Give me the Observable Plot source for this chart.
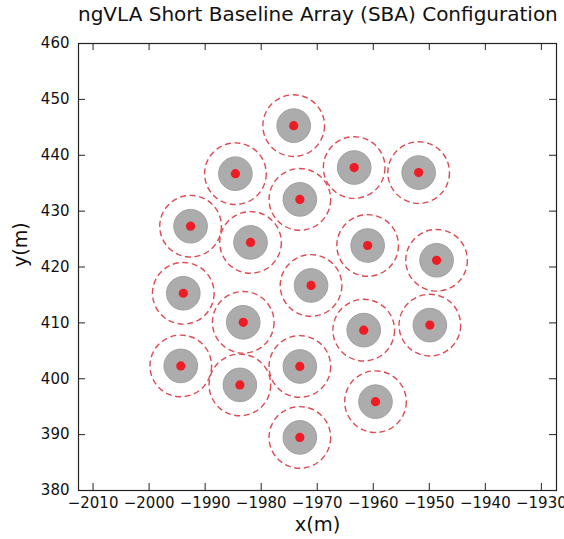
<!DOCTYPE html>
<html>
<head>
<meta charset="utf-8">
<script src="https://cdn.jsdelivr.net/npm/d3@7"></script>
<script src="https://cdn.jsdelivr.net/npm/@observablehq/plot@0.6"></script>
<style>
  html, body { margin: 0; padding: 0; background: #fff; }
  #title { box-sizing: border-box; width: 564px; height: 28px; line-height: 28px; padding-left: 78px; padding-right: 8px;
           text-align: center; font-family: "DejaVu Sans", sans-serif; font-size: 20px; color: #111; white-space: nowrap; }
</style>
</head>
<body>
<div id="title">ngVLA Short Baseline Array (SBA) Configuration</div>
<div id="chart"></div>
<script>
// Antenna positions (m)
const antX = [-1974.2, -1984.6, -1963.4, -1951.9, -1973.1, -1992.6, -1981.9, -1961.0, -1948.7, -1971.1,
              -1993.9, -1983.2, -1961.7, -1949.9, -1994.35, -1973.1, -1983.8, -1959.6, -1973.1];
const antY = [445.3, 436.7, 437.8, 436.9, 432.1, 427.3, 424.4, 423.85, 421.2, 416.7,
              415.3, 410.1, 408.7, 409.6, 402.3, 402.2, 398.9, 395.9, 389.5];
const dishRadius = 3;      // m (grey disc)
const keepoutRadius = 5.5; // m (dashed circle)
const xTicks = [-2010, -2000, -1990, -1980, -1970, -1960, -1950, -1940, -1930];
const yTicks = [380, 390, 400, 410, 420, 430, 440, 450, 460];
const xDomain = [-2012.6, -1927.3];
const yDomain = [380, 460];

const antennas = antX.map((x, i) => ({x, y: antY[i]}));

const width = 564, height = 511;
const mL = 78, mR = 8, mT = 15, mB = 49;
const fw = width - mL - mR, fh = height - mT - mB;
const pxPerUnit = fw / (xDomain[1] - xDomain[0]);
const tickLen = 7;
const fmt = d => String(d).replace("-", "\u2212");

const chart = Plot.plot({
  width, height,
  marginLeft: mL, marginRight: mR, marginTop: mT, marginBottom: mB,
  style: {fontFamily: "DejaVu Sans, sans-serif", background: "#fff", color: "#111", overflow: "visible"},
  x: {domain: xDomain, axis: null},
  y: {domain: yDomain, axis: null},
  r: {type: "linear", domain: [0, 1], range: [0, pxPerUnit]},
  marks: [
    Plot.dot(antennas, {x: "x", y: "y", r: () => keepoutRadius, stroke: "#dd4a52", strokeWidth: 1.4,
                        strokeDasharray: "6,3.6", fill: "none"}),
    Plot.dot(antennas, {x: "x", y: "y", r: () => dishRadius, fill: "#acacac", stroke: "#a0a0a0", strokeWidth: 1}),
    Plot.dot(antennas, {x: "x", y: "y", r: 4.6, fill: "#ee1d25", stroke: "none"}),
    Plot.ruleX(xTicks, {x: d => d, insetTop: fh - tickLen, stroke: "#222", strokeWidth: 1}),
    Plot.ruleX(xTicks, {x: d => d, insetBottom: fh - tickLen, stroke: "#222", strokeWidth: 1}),
    Plot.ruleY(yTicks, {y: d => d, insetRight: fw - tickLen, stroke: "#222", strokeWidth: 1}),
    Plot.ruleY(yTicks, {y: d => d, insetLeft: fw - tickLen, stroke: "#222", strokeWidth: 1}),
    Plot.frame({stroke: "#222", strokeWidth: 1.2}),
    Plot.text(xTicks, {x: d => d, text: fmt, frameAnchor: "bottom", lineAnchor: "top", dy: 7, fontSize: 15, fill: "#111"}),
    Plot.text(yTicks, {y: d => d, text: d => String(d), frameAnchor: "left", textAnchor: "end", dx: -9, fontSize: 15, fill: "#111"}),
    Plot.text(["x(m)"], {frameAnchor: "bottom", dy: 40, fontSize: 19.5, fill: "#111"}),
    Plot.text(["y(m)"], {frameAnchor: "left", dx: -58, rotate: -90, fontSize: 19, fill: "#111"})
  ]
});
document.getElementById("chart").appendChild(chart);
</script>
</body>
</html>
